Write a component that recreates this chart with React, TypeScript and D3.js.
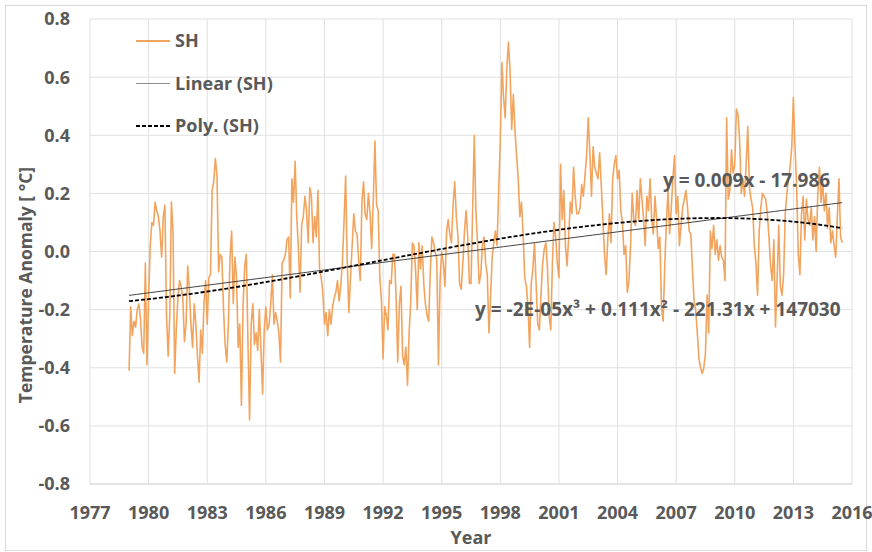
import React from "react";
import * as d3 from "d3";

// Southern Hemisphere monthly temperature anomaly (°C), one value per month from Jan 1979
const START_YEAR = 1979;
const shAnomaly: number[] = [
  -0.41, -0.19, -0.29, -0.24, -0.26, -0.2, -0.18, -0.23, -0.33, -0.35, -0.04, -0.39,
  -0.16, 0.02, 0.1, 0.09, 0.17, 0.14, 0.12, 0.07, -0.02, 0.12, 0.16, -0.22,
  -0.36, -0.22, 0.17, 0.07, -0.42, -0.27, -0.16, -0.1, -0.12, -0.16, -0.31, -0.25,
  -0.05, -0.13, -0.25, -0.33, -0.18, -0.25, -0.36, -0.45, -0.27, -0.35, -0.18, -0.1,
  -0.25, -0.09, -0.08, 0.21, 0.24, 0.32, 0.26, -0.07, -0.01, -0.02, -0.2, -0.32,
  -0.38, -0.25, -0.02, 0.07, -0.18, -0.02, -0.09, -0.33, -0.25, -0.53, -0.19, -0.05,
  -0.01, -0.31, -0.58, -0.25, -0.18, -0.32, -0.28, -0.34, -0.2, -0.34, -0.49, -0.27,
  -0.19, -0.27, -0.25, -0.18, -0.08, -0.25, -0.21, -0.24, -0.28, -0.38, -0.04, -0.03,
  -0.01, 0.04, 0.05, -0.16, 0.25, 0.17, 0.31, 0.12, 0.01, -0.14, 0.09, 0.12,
  0.19, 0.14, 0.03, 0.22, 0.19, 0.03, 0.12, 0.05, 0.21, -0.06, -0.09, -0.14,
  -0.25, -0.21, -0.29, -0.2, -0.25, -0.19, -0.16, -0.14, -0.1, -0.17, -0.12, -0.04,
  0.1, 0.26, -0.04, -0.21, -0.09, 0.02, 0.13, 0.07, 0.06, -0.03, -0.1, 0.17,
  0.24, 0.13, 0.11, 0.2, 0.13, 0.01, 0.18, 0.38, 0.16, 0.14, -0.09, -0.17,
  -0.37, -0.19, -0.22, -0.27, -0.1, -0.11, -0.01, -0.01, -0.16, -0.38, -0.18, -0.12,
  -0.36, -0.39, -0.33, -0.46, -0.28, -0.17, 0.03, 0.02, -0.07, -0.2, 0.03, -0.06,
  0.02, -0.11, -0.18, -0.22, -0.24, -0.07, 0.05, 0.03, 0.0, -0.03, -0.39, -0.1,
  0.0, -0.04, -0.12, 0.07, 0.11, 0.06, 0.03, 0.16, 0.24, 0.12, 0.05, -0.11,
  -0.13, -0.04, 0.07, 0.14, 0.05, -0.11, -0.11, 0.14, 0.4, 0.14, 0.03, -0.11,
  -0.08, 0.02, 0.05, -0.04, -0.08, -0.28, -0.16, -0.02, 0.03, 0.07, 0.02, 0.21,
  0.38, 0.65, 0.53, 0.46, 0.63, 0.72, 0.62, 0.42, 0.54, 0.42, 0.33, 0.25,
  0.12, 0.17, 0.06, -0.09, -0.12, -0.19, -0.33, -0.11, -0.06, 0.03, -0.11, -0.25,
  -0.27, -0.15, -0.04, 0.01, 0.03, -0.06, -0.22, -0.27, -0.04, 0.1, 0.05, -0.04,
  -0.09, 0.3, 0.11, 0.21, 0.02, -0.05, 0.05, 0.17, 0.13, 0.29, 0.19, 0.13,
  0.13, 0.15, 0.23, 0.19, 0.26, 0.33, 0.46, 0.34, 0.19, 0.36, 0.29, 0.27,
  0.25, 0.34, 0.23, 0.11, -0.01, -0.08, 0.04, 0.13, 0.03, 0.25, 0.3, 0.33,
  0.25, 0.28, 0.14, 0.1, -0.01, 0.02, -0.14, -0.1, 0.02, 0.2, 0.11, 0.09,
  0.21, 0.11, 0.25, 0.18, 0.11, 0.02, 0.19, 0.14, 0.25, 0.11, 0.06, 0.19,
  0.11, 0.01, 0.05, -0.19, -0.24, -0.05, 0.1, 0.21, 0.06, 0.15, 0.25, 0.33,
  0.13, 0.19, 0.02, 0.09, 0.15, 0.18, 0.21, 0.15, 0.07, 0.06, -0.06, -0.17,
  -0.2, -0.28, -0.37, -0.4, -0.42, -0.4, -0.35, -0.15, -0.28, 0.07, 0.01, 0.09,
  -0.01, 0.04, -0.03, 0.02, -0.02, -0.03, -0.1, 0.46, 0.18, 0.21, 0.35, 0.27,
  0.3, 0.49, 0.47, 0.38, 0.2, 0.25, 0.19, 0.3, 0.43, 0.22, 0.18, 0.15,
  0.02, -0.04, -0.15, 0.07, 0.15, 0.2, 0.19, 0.18, 0.13, 0.05, -0.05, -0.1,
  0.04, -0.26, -0.1, 0.09, -0.12, -0.15, -0.08, 0.13, 0.2, 0.25, 0.29, 0.36,
  0.53, 0.36, 0.22, -0.01, -0.08, 0.13, 0.19, 0.04, 0.18, 0.11, 0.09, 0.15,
  0.04, 0.12, 0.0, 0.2, 0.29, 0.17, 0.24, 0.14, 0.2, 0.08, 0.15, 0.03,
  0.07, 0.02, -0.02, 0.12, 0.25, 0.05, 0.03,
];

const xTicks = [1977, 1980, 1983, 1986, 1989, 1992, 1995, 1998, 2001, 2004, 2007, 2010, 2013, 2016];
const yTicks = [-0.8, -0.6, -0.4, -0.2, 0, 0.2, 0.4, 0.6, 0.8];
const seriesName = "SH";
const linearName = "Linear (SH)";
const polyName = "Poly. (SH)";
const linearEquation = "y = 0.009x - 17.986";
const polyEquation = "y = -2E-05x³ + 0.111x² - 221.31x + 147030";
const xTitle = "Year";
const yTitle = "Temperature Anomaly [ °C]";

const W = 872;
const H = 552;
const FONT = "'Open Sans', 'DejaVu Sans', sans-serif";
const TEXT = "#595959";
const ORANGE = "#F2A45E";

// Least-squares polynomial fit on a centred/scaled x to keep the normal equations well conditioned
function polyFit(xs: number[], ys: number[], degree: number) {
  const mean = d3.mean(xs)!;
  const scale = (d3.max(xs)! - d3.min(xs)!) / 2;
  const m = degree + 1;
  const A: number[][] = Array.from({ length: m }, () => new Array(m + 1).fill(0));
  xs.forEach((x, k) => {
    const u = (x - mean) / scale;
    const pw: number[] = [];
    for (let i = 0; i < 2 * m; i++) pw.push(Math.pow(u, i));
    for (let i = 0; i < m; i++) {
      for (let j = 0; j < m; j++) A[i][j] += pw[i + j];
      A[i][m] += pw[i] * ys[k];
    }
  });
  for (let c = 0; c < m; c++) {
    let p = c;
    for (let r = c + 1; r < m; r++) if (Math.abs(A[r][c]) > Math.abs(A[p][c])) p = r;
    [A[c], A[p]] = [A[p], A[c]];
    for (let r = 0; r < m; r++) {
      if (r === c) continue;
      const f = A[r][c] / A[c][c];
      for (let j = c; j <= m; j++) A[r][j] -= f * A[c][j];
    }
  }
  const coef = A.map((row, i) => row[m] / row[i]);
  return (x: number) => {
    const u = (x - mean) / scale;
    return coef.reduce((s, c, i) => s + c * Math.pow(u, i), 0);
  };
}

export default function App() {
  const x = d3.scaleLinear().domain([1977, 2016]).range([90, 852]);
  const y = d3.scaleLinear().domain([-0.8, 0.8]).range([484, 19]);

  const points = shAnomaly.map((v, i) => ({ t: START_YEAR + i / 12, v }));
  const ts = points.map((p) => p.t);
  const vs = points.map((p) => p.v);
  const linFit = polyFit(ts, vs, 1);
  const cubFit = polyFit(ts, vs, 3);
  const t0 = ts[0];
  const t1 = ts[ts.length - 1];
  const curveTs = d3.range(0, 201).map((i) => t0 + ((t1 - t0) * i) / 200);

  const line = d3
    .line<{ t: number; v: number }>()
    .x((d) => x(d.t))
    .y((d) => y(d.v));
  const fitLine = (f: (t: number) => number) =>
    d3
      .line<number>()
      .x((t) => x(t))
      .y((t) => y(f(t)))(curveTs) || "";

  const legend = [
    { name: seriesName, y: 41, stroke: ORANGE, width: 1.8, dash: undefined },
    { name: linearName, y: 83.5, stroke: "#8c8c8c", width: 1, dash: undefined },
    { name: polyName, y: 126, stroke: "#000", width: 1.8, dash: "4 2" },
  ];

  const fmt = (t: number) => d3.format(".1f")(t).replace("\u2212", "-");

  return (
    <svg
      width={W}
      height={H}
      style={{ position: "absolute", left: 0, top: 0, background: "#fff" }}
      fontFamily={FONT}
      fontWeight={700}
    >
      <rect x={5.5} y={5.5} width={861} height={545} fill="#fff" stroke="#d9d9d9" />

      {/* grid */}
      {yTicks.map((t) => (
        <line
          key={"gy" + t}
          x1={x(1977)}
          x2={x(2016)}
          y1={y(t)}
          y2={y(t)}
          stroke={t === -0.8 ? "#c8c8c8" : "#e0e0e0"}
          strokeWidth={1}
        />
      ))}
      {xTicks.map((t) => (
        <line key={"gx" + t} x1={x(t)} x2={x(t)} y1={y(0.8)} y2={y(-0.8)} stroke="#e0e0e0" strokeWidth={1} />
      ))}

      {/* tick labels */}
      {yTicks.map((t) => (
        <text key={"ly" + t} x={70} y={y(t)} dy="0.36em" textAnchor="end" fontSize={18} fill={TEXT}>
          {fmt(t)}
        </text>
      ))}
      {xTicks.map((t) => (
        <text key={"lx" + t} x={x(t)} y={519} textAnchor="middle" fontSize={18} fill={TEXT}>
          {t}
        </text>
      ))}

      {/* axis titles */}
      <text x={471} y={544} textAnchor="middle" fontSize={18} fill={TEXT}>
        {xTitle}
      </text>
      <text transform="translate(32,285) rotate(-90)" textAnchor="middle" fontSize={17.5} fill={TEXT}>
        {yTitle}
      </text>

      {/* series and trendlines */}
      <path d={line(points) || ""} fill="none" stroke={ORANGE} strokeWidth={1.6} strokeLinejoin="round" />
      <path d={fitLine(linFit)} fill="none" stroke="#404040" strokeWidth={1} />
      <path d={fitLine(cubFit)} fill="none" stroke="#000" strokeWidth={1.8} strokeDasharray="4 2" />

      {/* trendline equations */}
      <text x={663} y={187} fontSize={19} fill={TEXT}>
        {linearEquation}
      </text>
      <text x={475} y={316} fontSize={19} fill={TEXT}>
        {polyEquation}
      </text>

      {/* legend */}
      {legend.map((l) => (
        <g key={l.name}>
          <line x1={136} x2={170} y1={l.y} y2={l.y} stroke={l.stroke} strokeWidth={l.width} strokeDasharray={l.dash} />
          <text x={175} y={l.y} dy="0.36em" fontSize={18} fill={TEXT}>
            {l.name}
          </text>
        </g>
      ))}
    </svg>
  );
}
